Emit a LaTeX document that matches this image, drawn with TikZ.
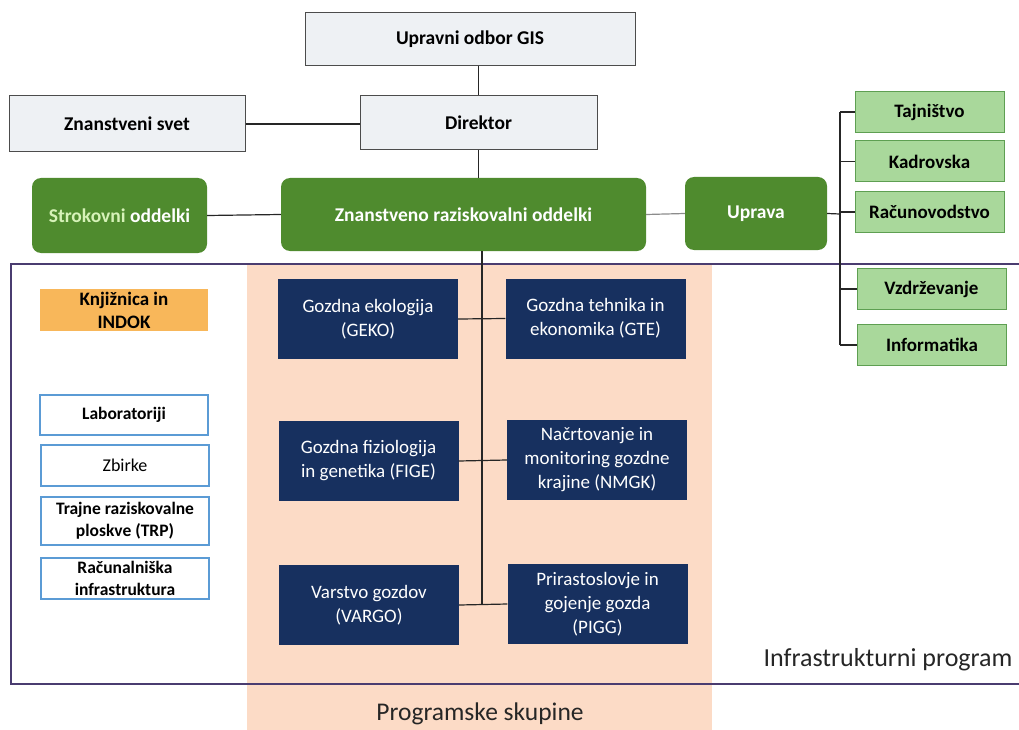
\documentclass[tikz,border=0pt]{standalone}
\usepackage{fontspec}
\setmainfont{Carlito}
\definecolor{boardgrey}{HTML}{EEF1F4}
\definecolor{deptgreen}{HTML}{4F8B2E}
\definecolor{palegreen}{HTML}{D6F2B8}
\definecolor{servgreen}{HTML}{A9D89B}
\definecolor{servedge}{HTML}{5E9F52}
\definecolor{groupnavy}{HTML}{17305F}
\definecolor{liborange}{HTML}{F8B75A}
\definecolor{infraedge}{HTML}{5B9BD5}
\definecolor{bandsalmon}{HTML}{FCDBC6}
\definecolor{framepurple}{HTML}{4A3C70}
\begin{document}
\begin{tikzpicture}[x=1pt,y=-1pt,
    greybox/.style={draw=black!70,fill=boardgrey,line width=1pt,font=\fontsize{19.5}{23}\selectfont\bfseries},
    deptbox/.style={fill=deptgreen,rounded corners=9pt,text=white,font=\fontsize{19.5}{23}\selectfont\bfseries},
    servbox/.style={draw=servedge,fill=servgreen,line width=1pt,minimum width=149,minimum height=41,font=\fontsize{19}{22}\selectfont\bfseries},
    groupbox/.style={fill=groupnavy,text=white,align=center,minimum width=180,minimum height=80,inner sep=1pt,font=\fontsize{19}{24}\selectfont},
    infrabox/.style={draw=infraedge,fill=white,line width=1.2pt,align=center,minimum width=168,inner sep=0pt,font=\fontsize{17.5}{22}\selectfont\bfseries},
    link/.style={line width=1.2pt,black!85}]
    \useasboundingbox (0,0) rectangle (1019,730);
    \fill[bandsalmon] (247,265) rectangle (712,730);
    \draw[framepurple,line width=1.4pt] (1019,264) -- (11,264) -- (11,684) -- (1019,684);

    \node[greybox,minimum width=330,minimum height=53] (odbor) at (470,39.5) {Upravni odbor GIS};
    \node[greybox,minimum width=236,minimum height=56] (svet) at (127,124) {Znanstveni svet};
    \node[greybox,minimum width=237,minimum height=54] (direktor) at (478.5,123) {Direktor};

    \node[deptbox,minimum width=175,minimum height=75] (strokovni) at (119.5,215.5) {\textcolor{palegreen}{Strokovni} oddelki};
    \node[deptbox,minimum width=365,minimum height=73] (znanstveno) at (463.5,214.5) {Znanstveno raziskovalni oddelki};
    \node[deptbox,minimum width=142,minimum height=73] (uprava) at (756,213.5) {Uprava};

    \node[servbox] (tajnistvo) at (929.5,112) {Tajništvo};
    \node[servbox] (kadrovska) at (929.5,161.5) {Kadrovska};
    \node[servbox] (racunovodstvo) at (929.5,212) {Računovodstvo};
    \node[servbox] (vzdrzevanje) at (931.5,289) {Vzdrževanje};
    \node[servbox] (informatika) at (932,345) {Informatika};

    \node[groupbox] (geko) at (368,319) {Gozdna ekologija\\(GEKO)};
    \node[groupbox] (gte) at (595.5,318.5) {Gozdna tehnika in\\ekonomika (GTE)};
    \node[groupbox] (fige) at (368.5,461) {Gozdna fiziologija\\in genetika (FIGE)};
    \node[groupbox] (nmgk) at (597,460) {Načrtovanje in\\monitoring gozdne\\krajine (NMGK)};
    \node[groupbox] (vargo) at (369,605) {Varstvo gozdov\\(VARGO)};
    \node[groupbox] (pigg) at (597.5,604) {Prirastoslovje in\\gojenje gozda\\(PIGG)};

    \node[fill=liborange,align=center,minimum width=168,minimum height=42,inner sep=0pt,font=\fontsize{19}{23}\selectfont\bfseries] (knjiznica) at (124,310) {Knjižnica in\\INDOK};
    \node[infrabox,minimum height=40] (lab) at (124,415) {Laboratoriji};
    \node[infrabox,minimum height=41,font=\fontsize{18}{22}\selectfont] (zbirke) at (125,465.5) {Zbirke};
    \node[infrabox,minimum height=48] (trp) at (125,521) {Trajne raziskovalne\\ploskve (TRP)};
    \node[infrabox,minimum height=41] (racinfra) at (125,578.5) {Računalniška\\infrastruktura};

    \node[font=\fontsize{26}{30}\selectfont,black!85] (infralabel) at (888,660) {Infrastrukturni program};
    \node[font=\fontsize{25.5}{30}\selectfont,black!85] (skupinelabel) at (480,714) {Programske skupine};

    \coordinate (bus) at (840,214);
    \coordinate (trunk) at (482,605);

    \draw[link] (odbor.south -| direktor) -- (direktor.north);
    \draw[link] (svet.east) -- (svet.east -| direktor.west);
    \draw[link] (direktor.south) -- (direktor.south |- znanstveno.north);
    \draw[link] (strokovni.east) -- (znanstveno.west);
    \draw[line width=1.2pt,black!45] (znanstveno.east) -- (uprava.west);
    \draw[link] (uprava.east) -- (bus);
    \draw[link] (bus |- tajnistvo.west) -- (bus |- informatika.west);
    \foreach \srv in {tajnistvo,kadrovska,racunovodstvo,vzdrzevanje,informatika}
        \draw[link] (bus |- \srv.west) -- (\srv.west);
    \draw[link] (znanstveno.south -| trunk) -- (trunk);
    \draw[link] (geko.east) -- (gte.west);
    \draw[link] (fige.east) -- (nmgk.west);
    \draw[link] (vargo.east) -- (pigg.west);
\end{tikzpicture}
\end{document}
